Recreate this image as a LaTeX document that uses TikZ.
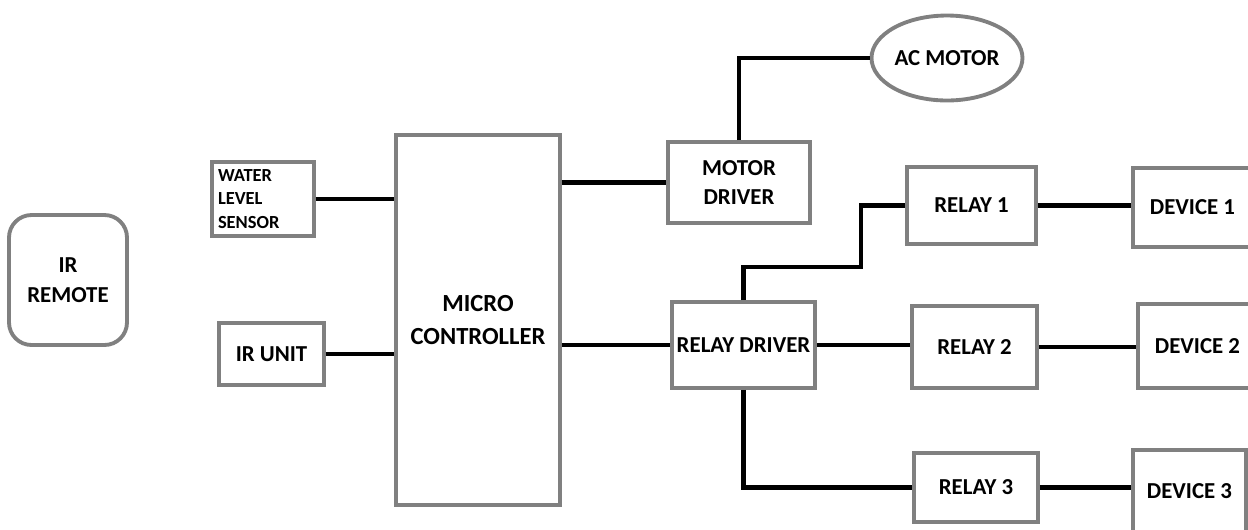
\documentclass[tikz,border=0pt]{standalone}
\usepackage{fontspec}
\setmainfont{Carlito}
\usetikzlibrary{shapes.geometric}
\definecolor{boxgray}{RGB}{128,128,128}

\tikzset{
  blk/.style={draw=boxgray, line width=2.2pt, align=center, inner sep=0pt,
    font=\bfseries\fontsize{13}{17}\selectfont},
  devbox/.style={blk, anchor=west, text width=2.7cm, inner xsep=0.34cm, align=flush left},
  wire/.style={draw=black, line width=2.4pt},
}

\begin{document}
\begin{tikzpicture}[x=0.02cm, y=-0.02cm]
    \useasboundingbox (0,0) rectangle (1248,529);
    \clip (0,0) rectangle (1248,529);

    \node[blk, minimum width=2.36cm, minimum height=2.6cm, rounded corners=0.45cm] (remote) at (68,280) {IR\\REMOTE};
    \node[blk, minimum width=2.04cm, minimum height=1.48cm, text width=1.8cm, inner xsep=0.12cm, align=flush left,
          font=\bfseries\fontsize{10.5}{13.5}\selectfont] (sensor) at (263,199) {WATER\\LEVEL\\SENSOR};
    \node[blk, minimum width=2.1cm, minimum height=1.24cm] (irunit) at (271.5,354) {IR UNIT};
    \node[blk, minimum width=3.28cm, minimum height=7.4cm, font=\bfseries\fontsize{14}{19}\selectfont] (mcu) at (478,320) {MICRO\\CONTROLLER};

    \node[blk, minimum width=2.84cm, minimum height=1.62cm] (mdrv) at (739,182.5) {MOTOR\\DRIVER};
    \node[blk, ellipse, minimum width=3.02cm, minimum height=1.7cm] (acm) at (947,58) {AC MOTOR};
    \node[blk, minimum width=2.86cm, minimum height=1.72cm] (rdrv) at (743.5,345) {RELAY DRIVER};

    \node[blk, minimum width=2.58cm, minimum height=1.54cm] (relay1) at (971.5,205.5) {RELAY 1};
    \node[blk, minimum width=2.5cm, minimum height=1.64cm] (relay2) at (974.5,347) {RELAY 2};
    \node[blk, minimum width=2.48cm, minimum height=1.38cm] (relay3) at (976,487.5) {RELAY 3};

    \node[devbox, minimum height=1.58cm] (dev1) at (1131,207.5) {DEVICE 1};
    \node[devbox, minimum height=1.68cm] (dev2) at (1136,346) {DEVICE 2};
    \node[blk, minimum width=2.26cm, minimum height=1.64cm] (dev3) at (1189.5,491) {DEVICE 3};

    \coordinate (r1bend) at (861,267);

    \draw[wire] (sensor.east) -- (sensor.east -| mcu.west);
    \draw[wire] (irunit.east) -- (irunit.east -| mcu.west);
    \draw[wire] (mdrv.west -| mcu.east) -- (mdrv.west);
    \draw[wire] (rdrv.west -| mcu.east) -- (rdrv.west);
    \draw[wire] (mdrv.north) |- (acm.west);
    \draw[wire] (rdrv.north) |- (r1bend) |- (relay1.west);
    \draw[wire] (rdrv.east) -- (rdrv.east -| relay2.west);
    \draw[wire] (rdrv.south) |- (relay3.west);
    \draw[wire] (relay1.east) -- (relay1.east -| dev1.west);
    \draw[wire] (relay2.east) -- (relay2.east -| dev2.west);
    \draw[wire] (relay3.east) -- (relay3.east -| dev3.west);
\end{tikzpicture}
\end{document}
